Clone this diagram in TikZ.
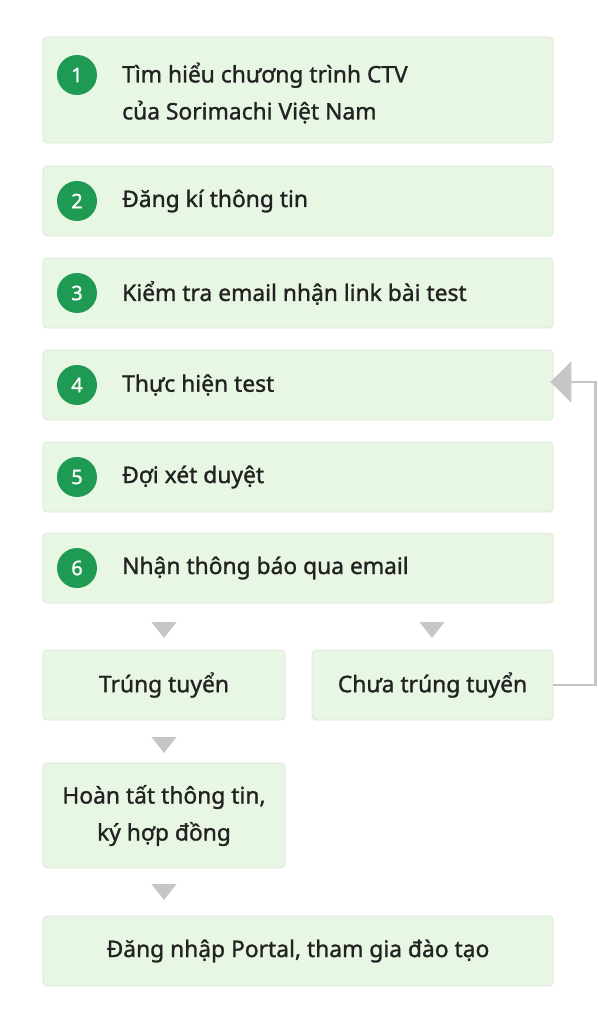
\documentclass[tikz,border=0pt]{standalone}
\usepackage{fontspec}
\setmainfont{Noto Sans}[FakeBold=1.2]
\usetikzlibrary{arrows.meta,calc}
\definecolor{boxfill}{HTML}{E8F6E4}
\definecolor{boxline}{HTML}{DCE6D9}
\definecolor{numgreen}{HTML}{1F9A52}
\definecolor{arrowgray}{HTML}{C6C6C6}
\definecolor{txt}{HTML}{222222}
\begin{document}
\begin{tikzpicture}[x=1pt,y=-1pt,
  stepbox/.style={draw=boxline,line width=0.8pt,fill=boxfill,rounded corners=4pt,inner sep=0pt},
  numdot/.style={circle,fill=numgreen,minimum size=40pt,inner sep=0pt,text=white,font=\fontsize{20}{20}\selectfont\bfseries},
  label/.style={anchor=west,text=txt,font=\fontsize{22.8}{37}\selectfont\bfseries,align=left,inner sep=0pt},
  clabel/.style={text=txt,font=\fontsize{22.8}{37}\selectfont\bfseries,align=center,inner sep=0pt},
  downtri/.style={fill=arrowgray}]
\useasboundingbox (0,0) rectangle (597,1024);
% boxes
\node[stepbox,minimum width=510pt,minimum height=106pt] (b1) at (298,90) {};
\node[stepbox,minimum width=510pt,minimum height=70pt] (b2) at (298,201) {};
\node[stepbox,minimum width=510pt,minimum height=70pt] (b3) at (298,293) {};
\node[stepbox,minimum width=510pt,minimum height=70pt] (b4) at (298,385) {};
\node[stepbox,minimum width=510pt,minimum height=70pt] (b5) at (298,477) {};
\node[stepbox,minimum width=510pt,minimum height=70pt] (b6) at (298,568) {};
\node[stepbox,minimum width=242pt,minimum height=70pt] (pass) at (164,685) {};
\node[stepbox,minimum width=241pt,minimum height=70pt] (fail) at (432.5,685) {};
\node[stepbox,minimum width=242pt,minimum height=105pt] (done) at (164,815.5) {};
\node[stepbox,minimum width=510pt,minimum height=70pt] (portal) at (298,951) {};
% numbers
\node[numdot] (n1) at (77,75) {1};
\node[numdot] (n2) at (77,201) {2};
\node[numdot] (n3) at (77,293) {3};
\node[numdot] (n4) at (77,385) {4};
\node[numdot] (n5) at (77,477) {5};
\node[numdot] (n6) at (77,568) {6};
% labels
\node[label] (t1) at (122,93) {Tìm hiểu chương trình CTV\\của Sorimachi Việt Nam};
\node[label] (t2) at (122,201) {Đăng kí thông tin};
\node[label] (t3) at (122,293) {Kiểm tra email nhận link bài test};
\node[label] (t4) at (122,385) {Thực hiện test};
\node[label] (t5) at (122,477) {Đợi xét duyệt};
\node[label] (t6) at (122,568) {Nhận thông báo qua email};
\node[clabel] (tp) at (pass) {Trúng tuyển};
\node[clabel] (tf) at (fail) {Chưa trúng tuyển};
\node[clabel] (td) at (done) {Hoàn tất thông tin,\\ký hợp đồng};
\node[clabel] (tpo) at (portal) {Đăng nhập Portal, tham gia đào tạo};
% down triangles
\fill[downtri] (151.5,622) -- (176.5,622) -- (164,638) -- cycle;
\fill[downtri] (419.5,622) -- (444.5,622) -- (432,638) -- cycle;
\fill[downtri] (151.5,737) -- (176.5,737) -- (164,753) -- cycle;
\fill[downtri] (151.5,884) -- (176.5,884) -- (164,900) -- cycle;
% feedback connector
\coordinate (tip) at ($(b4.east)+(-3,-3)$);
\draw[arrowgray,line width=2.5pt,-{Triangle[length=21pt,width=41pt]}]
  (fail.east) -- ++(42,0) |- (tip);
\end{tikzpicture}
\end{document}
